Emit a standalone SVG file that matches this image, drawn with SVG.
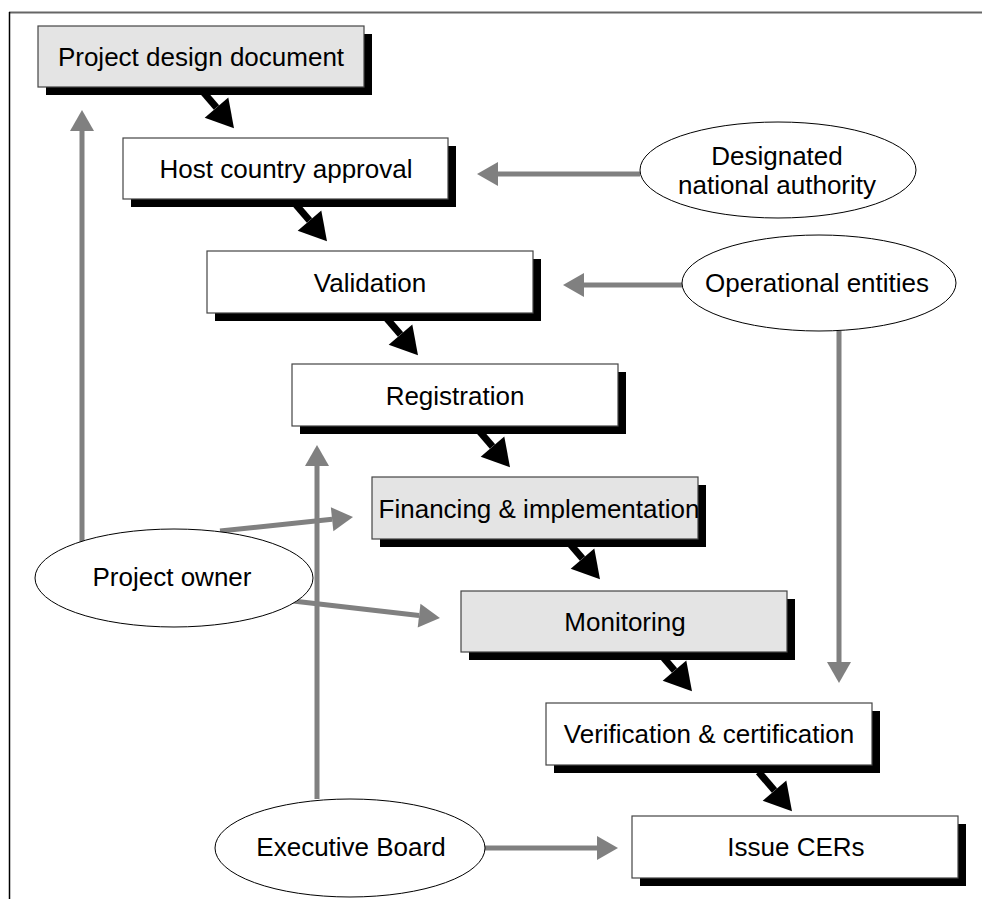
<svg xmlns="http://www.w3.org/2000/svg" width="982" height="899" viewBox="0 0 982 899">
<style>
  .box { stroke: #444; stroke-width: 1.2; }
  .white { fill: #ffffff; }
  .grey { fill: #e4e4e4; }
  .shadow { fill: #000000; }
  .ell { fill: #ffffff; stroke: #000; stroke-width: 1; }
  .lbl { font-family: "Liberation Sans", Arial, sans-serif; font-size: 26px; fill: #000; text-anchor: middle; }
  .flow { stroke: #000; stroke-width: 7; fill: none; marker-end: url(#blackHead); }
  .info { stroke: #808080; stroke-width: 5; fill: none; marker-end: url(#greyHead); }
</style>
<defs>
  <marker id="blackHead" markerUnits="userSpaceOnUse" markerWidth="30" markerHeight="34" refX="0" refY="15" orient="auto" viewBox="0 0 30 30" overflow="visible">
    <path d="M0,-0.5 L27,15 L0,30.5 Z" fill="#000"/>
  </marker>
  <marker id="greyHead" markerUnits="userSpaceOnUse" markerWidth="22" markerHeight="24" refX="0" refY="12" orient="auto" viewBox="0 0 22 24" overflow="visible">
    <path d="M0,0 L21,12 L0,24 Z" fill="#808080"/>
  </marker>
</defs>
<rect x="0" y="0" width="982" height="899" fill="#fff"/>
<g id="frame">
  <line x1="9" y1="12.5" x2="982" y2="12.5" stroke="#666" stroke-width="2"/>
  <line x1="9.5" y1="12" x2="9.5" y2="899" stroke="#000" stroke-width="1.5"/>
</g>
<g id="connectors">
  <line class="flow" x1="200.6" y1="88.9" x2="216.5" y2="107.6"/>
  <line class="flow" x1="293.6" y1="201.9" x2="309.5" y2="220.6"/>
  <line class="flow" x1="384.6" y1="315.9" x2="400.5" y2="334.6"/>
  <line class="flow" x1="476.6" y1="427.9" x2="492.5" y2="446.6"/>
  <line class="flow" x1="566.6" y1="539.9" x2="582.5" y2="558.6"/>
  <line class="flow" x1="658.6" y1="651.9" x2="674.5" y2="670.6"/>
  <line class="flow" x1="758.6" y1="771.9" x2="774.5" y2="790.6"/>
  <line class="info" x1="640" y1="174" x2="498" y2="174"/>
  <line class="info" x1="682" y1="285" x2="584" y2="285"/>
  <line class="info" x1="839" y1="331" x2="839" y2="662"/>
  <line class="info" x1="82" y1="542" x2="82" y2="131"/>
  <line class="info" x1="317" y1="799" x2="317" y2="466"/>
  <line class="info" x1="220" y1="531" x2="332.1" y2="519.2"/>
  <line class="info" x1="293" y1="601" x2="419.1" y2="615.6"/>
  <line class="info" x1="485" y1="848" x2="597" y2="848"/>
</g>
<g id="pdd">
  <rect class="shadow" x="46" y="34" width="326" height="61"/>
  <rect class="box grey" x="38" y="26" width="326" height="61"/>
  <text class="lbl" x="201" y="66">Project design document</text>
</g>
<g id="host">
  <rect class="shadow" x="131" y="146" width="325" height="61"/>
  <rect class="box white" x="123" y="138" width="325" height="61"/>
  <text class="lbl" x="286" y="178">Host country approval</text>
</g>
<g id="validation">
  <rect class="shadow" x="215" y="259" width="326" height="62"/>
  <rect class="box white" x="207" y="251" width="326" height="62"/>
  <text class="lbl" x="370" y="292">Validation</text>
</g>
<g id="registration">
  <rect class="shadow" x="300" y="372" width="326" height="62"/>
  <rect class="box white" x="292" y="364" width="326" height="62"/>
  <text class="lbl" x="455" y="405">Registration</text>
</g>
<g id="financing">
  <rect class="shadow" x="380" y="485" width="326" height="62"/>
  <rect class="box grey" x="372" y="477" width="326" height="62"/>
  <text class="lbl" x="539" y="518">Financing &amp; implementation</text>
</g>
<g id="monitoring">
  <rect class="shadow" x="469" y="599" width="326" height="61"/>
  <rect class="box grey" x="461" y="591" width="326" height="61"/>
  <text class="lbl" x="625" y="631">Monitoring</text>
</g>
<g id="verification">
  <rect class="shadow" x="554" y="711" width="326" height="62"/>
  <rect class="box white" x="546" y="703" width="326" height="62"/>
  <text class="lbl" x="709" y="743">Verification &amp; certification</text>
</g>
<g id="issue">
  <rect class="shadow" x="640" y="824" width="326" height="62"/>
  <rect class="box white" x="632" y="816" width="326" height="62"/>
  <text class="lbl" x="796" y="856">Issue CERs</text>
</g>
<g id="dna">
  <ellipse class="ell" cx="778" cy="170" rx="138" ry="48"/>
  <text class="lbl" x="777" y="165">Designated</text>
  <text class="lbl" x="777" y="194">national authority</text>
</g>
<g id="operational">
  <ellipse class="ell" cx="819" cy="283" rx="137" ry="48"/>
  <text class="lbl" x="817" y="292">Operational entities</text>
</g>
<g id="owner">
  <ellipse class="ell" cx="174" cy="578" rx="139" ry="49"/>
  <text class="lbl" x="172" y="586">Project owner</text>
</g>
<g id="board">
  <ellipse class="ell" cx="350" cy="848" rx="135" ry="49"/>
  <text class="lbl" x="351" y="856">Executive Board</text>
</g>
</svg>
